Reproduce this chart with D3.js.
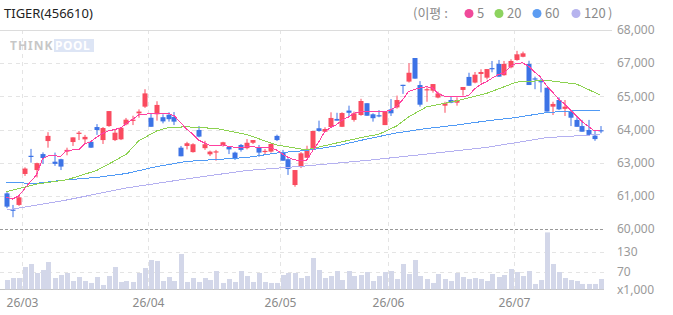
<!DOCTYPE html>
<html>
<head>
<meta charset="utf-8">
<script src="https://cdn.jsdelivr.net/npm/d3@7"></script>
<style>
  body { margin: 0; background: #fff; }
  svg { display: block; font-family: "Noto Sans", "Noto Sans CJK KR", sans-serif; }
</style>
</head>
<body>
<div id="chart"></div>
<script>
// daily candles, index 0..99 (late Feb -> mid Jul)
const opens = [61350,60690,60880,62140,62880,62300,62950,63480,62640,62740,
  63050,63440,63770,63550,63450,64050,63520,64090,63520,63550,
  64160,64300,64610,64880,64430,64570,64450,64550,64460,63210,
  63280,63030,63930,63190,62940,63030,63320,63240,63010,63320,
  63190,63410,63230,63050,63050,63690,63020,62740,61690,62440,
  62800,63160,64000,63860,64050,64380,64060,64720,64340,64540,
  65020,64570,64530,64130,64770,64850,65770,65900,66860,65760,
  65570,65530,65250,64920,65150,65040,65560,66090,65860,66210,
  66060,66450,66620,66160,66480,66780,66910,66620,66030,65920,
  65650,64880,65150,64790,64680,64340,64090,63930,63700,63920];
const highs = [61400,60880,61280,62410,63160,62600,63020,63840,63010,62760,
  63210,63630,63890,63730,63480,64170,64050,64700,63930,64020,
  64420,64510,64770,65590,64590,65100,64570,64650,64660,63280,
  63450,63390,64090,63490,63090,63120,63450,63240,63050,63360,
  63560,63520,63320,63160,63390,63740,63120,62780,62300,63030,
  63290,63890,64310,64040,64650,64630,64650,64920,64680,65200,
  65020,64610,64740,64700,65190,65330,65770,66650,66860,65920,
  65670,65800,65490,65080,65290,65260,65680,66260,66290,66400,
  66410,66740,66780,66740,66810,67150,67120,66750,66100,66030,
  65650,65080,65260,65150,64720,64450,64340,64340,63930,64090];
const lows = [60750,60380,60840,62060,62600,62000,62550,63210,62470,62300,
  62900,63280,63520,63390,63200,63730,63360,64060,63480,63520,
  64120,64130,64430,64830,64060,64310,64200,64270,64130,62860,
  63140,63010,63630,63120,62870,62680,63250,62950,62710,63050,
  63140,63360,62840,62950,63010,63480,62680,62100,61620,62380,
  62800,63160,63860,63850,64050,64310,64050,64470,64270,64510,
  64510,64270,64450,64130,64500,64800,65400,65860,66020,64880,
  65080,65450,65220,64630,65020,64920,65330,65730,65830,65860,
  65990,66280,66100,66140,66440,66750,66890,65760,65590,65460,
  64680,64540,64740,64500,64090,64060,63860,63730,63490,63800];
const closes = [60810,60660,61190,62360,62860,62580,62790,63690,62550,62440,
  63120,63630,63820,63650,63210,63930,64010,64700,63820,64020,
  64350,64350,64680,65420,64060,64950,64280,64370,64270,62860,
  63390,63350,63660,63350,63050,63060,63430,63140,62790,63120,
  63410,63520,63010,63080,63360,63520,62680,62340,62300,62980,
  63160,63890,63890,63970,64420,64310,64620,64630,64610,65110,
  64510,64410,64500,64700,64610,65150,65750,66260,66020,64960,
  65590,65800,65420,65020,65040,65150,65680,65730,66180,66290,
  66410,66420,66100,66620,66740,67010,67050,65760,66010,65900,
  64680,64990,64770,64880,64430,64060,63860,63730,63560,63890];
// volume, x1,000
const volumes = [45,51,51,84,93,66,75,99,51,60,
  66,42,54,42,36,54,30,57,84,39,
  42,39,66,81,105,102,42,54,42,123,
  39,51,39,51,45,72,36,48,39,72,
  57,39,66,39,36,36,60,66,66,51,
  57,111,75,51,57,72,45,72,57,60,
  69,42,57,69,72,48,93,63,105,57,
  48,36,63,48,42,66,54,48,51,48,
  42,63,54,60,78,69,57,72,33,45,
  188,93,69,51,45,42,33,33,33,48];

// moving averages
const ma5 = [61190,61120,61240,61530,61830,62100,62750,62880,62890,62850,
  63080,63120,63120,63360,63450,63630,63790,63890,63950,64010,
  64200,64360,64540,64570,64600,64610,64610,64600,64500,64230,
  63970,63770,63520,63400,63300,63280,63320,63260,63230,63230,
  63240,63260,63200,63200,63220,63120,62950,62810,62710,62700,
  62690,63080,63420,63850,64030,64150,64340,64460,64620,64680,
  64680,64680,64680,64680,64740,64890,65150,65500,65580,65640,
  65690,65640,65400,65310,65290,65290,65290,65330,65600,65780,
  65900,66050,66190,66250,66530,66640,66660,66530,66290,66090,
  65730,65480,65190,64990,64740,64500,64260,64070,63890,63930];
const ma20Idx = [0,5,10,15,18,20,22,25,27,30,35,40,45,50,55,60,62,65,67,70,75,80,85,90,95,99];
const ma20 = [61420,61730,61900,62280,62670,62950,63480,63890,64030,64060,63990,63750,63320,
  63120,63400,63670,63750,64090,64460,64870,65110,65420,65880,65950,65800,65350];
const ma60Idx = [0,5,10,15,20,25,30,35,40,45,50,55,60,65,70,75,80,85,90,95,99];
const ma60 = [61790,61760,61900,62000,62160,62440,62650,62730,62810,62990,63100,
  63280,63560,63810,63990,64130,64300,64440,64640,64720,64740];
const ma120Idx = [0,10,20,30,40,50,60,70,80,90,99];
const ma120 = [60670,61080,61570,61940,62280,62470,62690,62950,63220,63620,63750];

const monthIdx = [3,24,46,64,85];
const monthLabels = ["26/03","26/04","26/05","26/06","26/07"];
const priceLabels = ["68,000","67,000","65,000","64,000","63,000","61,000","60,000"];
const volTicks = [130,70];

const width = 673, height = 315;
const upColour = "#fa4b5f", downColour = "#3c73e6";

const svg = d3.select("#chart").append("svg")
  .attr("width", width).attr("height", height);
svg.append("rect").attr("width", width).attr("height", height).attr("fill", "#fff");

const x = d3.scaleLinear().domain([-0.5, 99.5]).range([3.5, 603.5]);
const y = d3.scaleLinear().domain([59900, 68000]).range([229, 30]);
const yv = d3.scaleLinear().domain([17, 130]).range([289.3, 251.7]);

const priceTicks = d3.range(7).map(k => 68000 - k * 1350);

// grid
const grid = svg.append("g");
grid.selectAll("line.hg")
  .data(priceTicks.slice(1, 6))
  .enter().append("line")
  .attr("x1", 0).attr("x2", 604)
  .attr("y1", d => Math.round(y(d)) + 0.5).attr("y2", d => Math.round(y(d)) + 0.5)
  .attr("stroke", "#e4e4e4").attr("stroke-dasharray", "4,4");
grid.selectAll("line.vg")
  .data(volTicks)
  .enter().append("line")
  .attr("x1", 0).attr("x2", 604)
  .attr("y1", d => Math.round(yv(d)) + 0.5).attr("y2", d => Math.round(yv(d)) + 0.5)
  .attr("stroke", "#e4e4e4").attr("stroke-dasharray", "4,4");
grid.selectAll("line.mg")
  .data(monthIdx)
  .enter().append("line")
  .attr("x1", d => Math.round(x(d)) - 2.5).attr("x2", d => Math.round(x(d)) - 2.5)
  .attr("y1", 30).attr("y2", 289)
  .attr("stroke", "#e4e4e4").attr("stroke-dasharray", "4,4");
grid.append("line")
  .attr("x1", 0).attr("x2", 612)
  .attr("y1", Math.round(y(68000)) + 0.5).attr("y2", Math.round(y(68000)) + 0.5)
  .attr("stroke", "#dcdcdc");
grid.append("line")
  .attr("x1", 0).attr("x2", 604)
  .attr("y1", Math.round(y(59900)) + 0.5).attr("y2", Math.round(y(59900)) + 0.5)
  .attr("stroke", "#999").attr("stroke-dasharray", "3,2");
grid.append("line")
  .attr("x1", 0).attr("x2", 604)
  .attr("y1", 289.5).attr("y2", 289.5)
  .attr("stroke", "#c4c4c4");

// watermark
const wm = svg.append("g").attr("opacity", 0.55);
wm.append("text").attr("x", 10).attr("y", 50)
  .attr("font-size", 12).attr("font-weight", "bold").attr("fill", "#9a9a9a")
  .attr("letter-spacing", 1).text("THINK");
wm.append("rect").attr("x", 54).attr("y", 39).attr("width", 40).attr("height", 13)
  .attr("fill", "#c3d0ee");
wm.append("text").attr("x", 55).attr("y", 50)
  .attr("font-size", 12).attr("font-weight", "bold").attr("fill", "#fff")
  .attr("letter-spacing", 0.5).text("POOL");

// volume bars
svg.append("g").selectAll("rect")
  .data(volumes)
  .enter().append("rect")
  .attr("x", (d, i) => Math.round(x(i)) - 2.5 + 0.5)
  .attr("y", d => yv(d))
  .attr("width", 5)
  .attr("height", d => 289.3 - yv(d))
  .attr("fill", "#d3d7e9");

// candles
const idx = d3.range(opens.length);
const candles = svg.append("g");
candles.selectAll("line")
  .data(idx)
  .enter().append("line")
  .attr("x1", i => Math.round(x(i))).attr("x2", i => Math.round(x(i)))
  .attr("y1", i => y(highs[i])).attr("y2", i => y(lows[i]))
  .attr("stroke", i => closes[i] >= opens[i] ? upColour : downColour)
  .attr("stroke-width", 1);
candles.selectAll("rect")
  .data(idx)
  .enter().append("rect")
  .attr("x", i => Math.round(x(i)) - 2.5)
  .attr("y", i => y(Math.max(opens[i], closes[i])))
  .attr("width", 5)
  .attr("height", i => Math.max(1.2, Math.abs(y(opens[i]) - y(closes[i]))))
  .attr("fill", i => closes[i] >= opens[i] ? upColour : downColour);

// moving averages
const line = d3.line().x(d => x(d[0])).y(d => y(d[1]));
const maSeries = [
  { pts: ma120Idx.map((d, k) => [d, ma120[k]]), colour: "#b4b0f0" },
  { pts: ma60Idx.map((d, k) => [d, ma60[k]]), colour: "#509af5" },
  { pts: ma20Idx.map((d, k) => [d, ma20[k]]), colour: "#8cd250" },
  { pts: ma5.map((d, k) => [k, d]), colour: "#ff40a0" }
];
svg.append("g").selectAll("path")
  .data(maSeries)
  .enter().append("path")
  .attr("d", d => line(d.pts))
  .attr("fill", "none")
  .attr("stroke", d => d.colour)
  .attr("stroke-width", 1)
  .attr("shape-rendering", "crispEdges");

// right axis labels
const axisText = svg.append("g").attr("font-size", 12).attr("fill", "#9a9a9a");
axisText.selectAll("text.p")
  .data(priceTicks)
  .enter().append("text")
  .attr("x", 617).attr("y", d => y(d)).attr("dy", "0.36em")
  .text((d, i) => priceLabels[i]);
axisText.selectAll("text.v")
  .data(volTicks)
  .enter().append("text")
  .attr("x", 617).attr("y", d => yv(d)).attr("dy", "0.36em")
  .text(d => d);
axisText.append("text").attr("x", 617).attr("y", 289.5).attr("dy", "0.36em").text("x1,000");

// month labels
svg.append("g").selectAll("text")
  .data(monthIdx)
  .enter().append("text")
  .attr("x", d => Math.round(x(d)) - 2.5).attr("y", 307)
  .attr("text-anchor", "middle")
  .attr("font-size", 12).attr("fill", "#8a8a8a")
  .text((d, i) => monthLabels[i]);

// header
svg.append("text").attr("x", 4).attr("y", 18)
  .attr("font-size", 13).attr("fill", "#222").text("TIGER(456610)");

const legend = svg.append("g").attr("font-size", 13).attr("fill", "#8a8a8a")
  .attr("font-family", "'Noto Sans CJK KR', 'Noto Sans', sans-serif");
legend.append("text").attr("x", 413).attr("y", 18).text("(이평 :");
const legItems = [
  { label: "5", colour: "#f04a9a", cx: 469 },
  { label: "20", colour: "#8dd35f", cx: 499 },
  { label: "60", colour: "#5c9cf2", cx: 537 },
  { label: "120", colour: "#b6b3ee", cx: 576 }
];
legItems.forEach(it => {
  legend.append("circle").attr("cx", it.cx).attr("cy", 13.5).attr("r", 4.5).attr("fill", it.colour);
  legend.append("text").attr("x", it.cx + 8).attr("y", 18).text(it.label);
});
legend.append("text").attr("x", 608).attr("y", 18).text(")");
</script>
</body>
</html>
